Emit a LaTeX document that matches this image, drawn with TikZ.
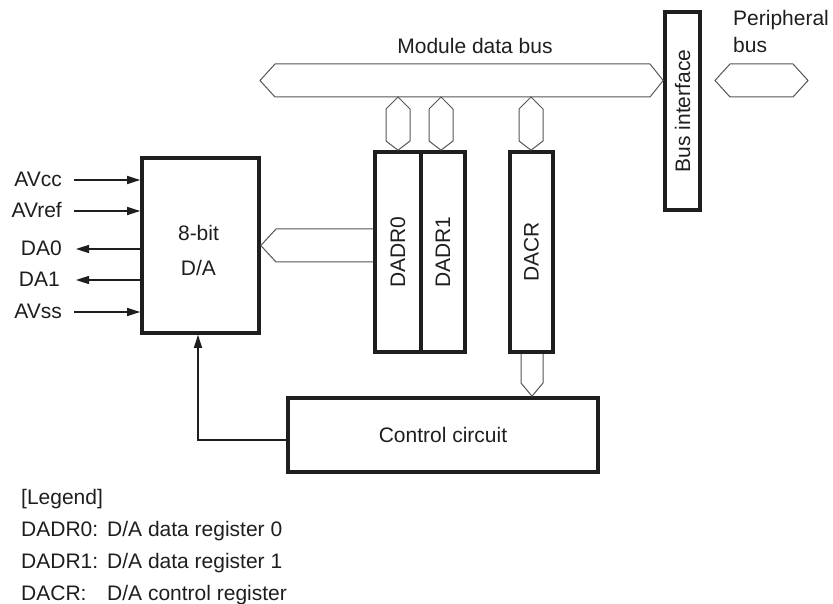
\documentclass[tikz,border=0pt]{standalone}
\usepackage{fontspec}
\setmainfont{Liberation Sans}
\usetikzlibrary{arrows.meta}
\definecolor{ink}{HTML}{1E1E1E}
\definecolor{busline}{HTML}{555555}
\tikzset{
  every node/.style={font=\fontsize{21}{24}\selectfont, text=ink},
  blk/.style={draw=ink, line width=3.6pt, inner sep=0pt, rectangle},
  buspath/.style={draw=busline, line width=1pt, line join=miter},
  sig/.style={draw=ink, line width=1.6pt, -{Triangle[length=13pt,width=8pt]}},
  lab/.style={inner sep=0pt, text height=14pt, text depth=0pt},
}
\begin{document}
\begin{tikzpicture}[x=1pt,y=-1pt]
\useasboundingbox (0,0) rectangle (833,604);

% blocks
\node[blk, minimum width=117pt, minimum height=175pt] (da) at (200.5,245.5) {};
\node[align=center, inner sep=0pt] (datxt) at (198.5,250.5) {8-bit\\[11pt]D/A};
\node[blk, minimum width=46pt, minimum height=200pt] (dadr0) at (398,252) {\rotatebox{90}{DADR0}};
\node[blk, minimum width=44pt, minimum height=200pt] (dadr1) at (443,252) {\rotatebox{90}{DADR1}};
\node[blk, minimum width=43pt, minimum height=200pt] (dacr) at (531.5,252) {\rotatebox{90}{DACR}};
\node[blk, minimum width=35pt, minimum height=198pt] (busif) at (682.5,111) {\rotatebox{90}{Bus interface}};
\node[blk, minimum width=310pt, minimum height=74pt] (ctrl) at (443,435) {\raisebox{0pt}{Control circuit}};

% texts
\node (mdb) at (475,46) {Module data bus};
\node[anchor=north west, align=left, inner sep=0pt] (pb) at (733,10) {Peripheral\\[3pt]bus};

% module data bus
\coordinate (mbL) at (260,80.5);
\draw[buspath] (mbL) -- (275,64) -- (650,64) -- (busif.west |- mbL) -- (650,97) -- (275,97) -- cycle;
% peripheral bus
\draw[buspath] (715,80.5) -- (730,64) -- (793,64) -- (808,80.5) -- (793,97) -- (730,97) -- cycle;

% vertical buses
\foreach \n/\c in {dadr0/398, dadr1/441, dacr/531}{
  \draw[buspath] (\c,97) -- (\c+12,109) -- (\c+12,141) -- (\n.north -| \c,0) -- (\c-12,141) -- (\c-12,109) -- cycle;
}

% D/A <- DADR0 bus
\draw[buspath] (dadr0.west |- 0,229) -- (276,229) -- (da.east) -- (276,262) -- (dadr0.west |- 0,262);

% DACR -> control circuit
\draw[buspath] (dacr.south -| 521,0) -- (521,383) -- (ctrl.north -| 532,0) -- (543,383) -- (dacr.south -| 543,0);

% control -> D/A
\draw[sig] (ctrl.west |- 0,440) -- (198,440) -- (da.south -| 198,0);

% signals
\node[lab, anchor=east] (avcc) at (62,180) {AVcc};
\node[lab, anchor=east] (avref) at (62,211) {AVref};
\node[lab, anchor=east] (da0) at (62,249) {DA0};
\node[lab, anchor=east] (da1) at (60,280) {DA1};
\node[lab, anchor=east] (avss) at (62,312) {AVss};
\draw[sig] ([xshift=12pt]avcc.east) -- (da.west |- avcc.east);
\draw[sig] ([xshift=12pt]avref.east) -- (da.west |- avref.east);
\draw[sig] ([xshift=12pt]avss.east) -- (da.west |- avss.east);
\draw[sig] (da.west |- da0.east) -- ([xshift=14pt]da0.east);
\draw[sig] (da.west |- da1.east) -- ([xshift=16pt]da1.east);

% legend
\node[anchor=base west, inner sep=0pt] (lg) at (21,504) {[Legend]};
\node[anchor=base west, inner sep=0pt] (l1) at (21,536) {DADR0:};
\node[anchor=base west, inner sep=0pt] (l1d) at (107,536) {D/A data register 0};
\node[anchor=base west, inner sep=0pt] (l2) at (21,568) {DADR1:};
\node[anchor=base west, inner sep=0pt] (l2d) at (107,568) {D/A data register 1};
\node[anchor=base west, inner sep=0pt] (l3) at (21,600) {DACR:};
\node[anchor=base west, inner sep=0pt] (l3d) at (107,600) {D/A control register};
\end{tikzpicture}
\end{document}
